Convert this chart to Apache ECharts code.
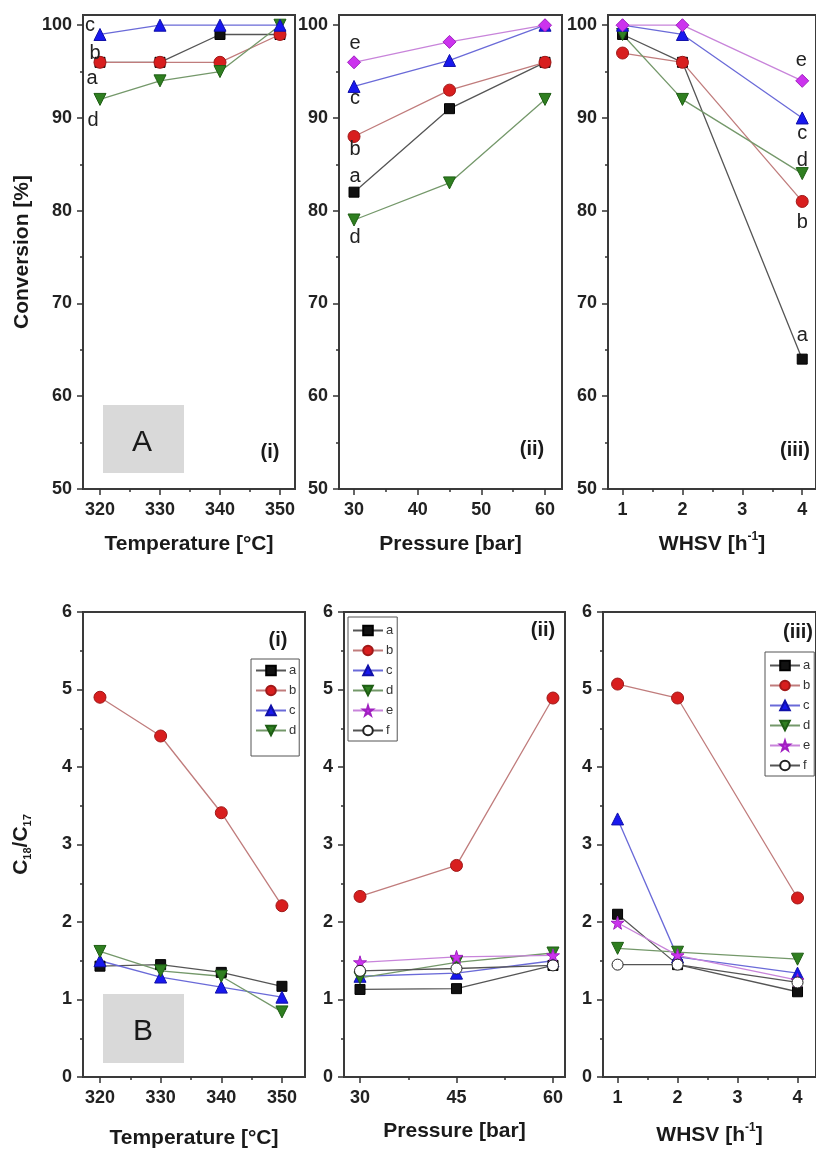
<!DOCTYPE html>
<html>
<head>
<meta charset="utf-8">
<script src="https://cdn.jsdelivr.net/npm/echarts@6/dist/echarts.min.js"></script>
<style>
  html, body { margin: 0; padding: 0; background: #fff; }
  #chart { width: 816px; height: 1151px; }
</style>
</head>
<body>
<div id="chart"></div>
<script>
// ---------- top row (A): conversion [%] ----------
const tempX = [320, 330, 340, 350];
const convTempA = [96, 96, 99, 99];
const convTempB = [96, 96, 96, 99];
const convTempC = [99, 100, 100, 100];
const convTempD = [92, 94, 95, 100];

const presX = [30, 45, 60];
const convPresA = [82, 91, 96];
const convPresB = [88, 93, 96];
const convPresC = [93.4, 96.2, 100];
const convPresD = [79, 83, 92];
const convPresE = [96, 98.2, 100];

const whsvX = [1, 2, 4];
const convWhsvA = [99, 96, 64];
const convWhsvB = [97, 96, 81];
const convWhsvC = [100, 99, 90];
const convWhsvD = [99, 92, 84];
const convWhsvE = [100, 100, 94];

// ---------- bottom row (B): C18/C17 ----------
const ratioTempA = [1.43, 1.45, 1.35, 1.17];
const ratioTempB = [4.90, 4.40, 3.41, 2.21];
const ratioTempC = [1.50, 1.29, 1.16, 1.03];
const ratioTempD = [1.62, 1.37, 1.30, 0.84];

const ratioPresA = [1.13, 1.14, 1.44];
const ratioPresB = [2.33, 2.73, 4.89];
const ratioPresC = [1.30, 1.34, 1.50];
const ratioPresD = [1.28, 1.48, 1.60];
const ratioPresE = [1.48, 1.55, 1.57];
const ratioPresF = [1.37, 1.40, 1.44];

const ratioWhsvA = [2.10, 1.45, 1.10];
const ratioWhsvB = [5.07, 4.89, 2.31];
const ratioWhsvC = [3.33, 1.55, 1.34];
const ratioWhsvD = [1.66, 1.61, 1.52];
const ratioWhsvE = [1.99, 1.57, 1.25];
const ratioWhsvF = [1.45, 1.45, 1.22];

// ---------- ticks ----------
const tempTicks = [320, 330, 340, 350];
const tempMinor = [325, 335, 345];
const presTicksA = [30, 40, 50, 60];
const presMinorA = [35, 45, 55];
const presTicksB = [30, 45, 60];
const presMinorB = [37.5, 52.5];
const whsvTicks = [1, 2, 3, 4];
const whsvMinor = [1.5, 2.5, 3.5];
const convTicks = [50, 60, 70, 80, 90, 100];
const convMinor = [55, 65, 75, 85, 95];
const ratioTicks = [0, 1, 2, 3, 4, 5, 6];
const ratioMinor = [0.5, 1.5, 2.5, 3.5, 4.5, 5.5];

const FONT = '"Liberation Sans", Arial, sans-serif';
const STAR = 'path://M50,0 L61,35 L98,35 L68,57 L79,91 L50,70 L21,91 L32,57 L2,35 L39,35 Z';

const looks = {
  a: { symbol: 'rect', size: 10, color: '#111', border: '#000', line: '#555' },
  b: { symbol: 'circle', size: 12, color: '#d81e1e', border: '#a01818', line: '#c07c7c' },
  c: { symbol: 'triangle', size: 12, color: '#1818ee', border: '#1010a8', line: '#6a6ad8' },
  d: { symbol: 'triangle', rotate: 180, size: 12, color: '#2f7f20', border: '#1e5e14', line: '#74986a' },
  e: { symbol: 'diamond', size: 13, color: '#cc33ee', border: '#a020c0', line: '#c884da' },
  f: { symbol: 'circle', size: 11, color: '#fff', border: '#222', line: '#555' },
};

const grids = [
  { left: 83, top: 15, width: 212, height: 474 },   // A (i)
  { left: 339, top: 15, width: 223, height: 474 },  // A (ii)
  { left: 608, top: 15, width: 214, height: 474 },  // A (iii)
  { left: 83, top: 612, width: 222, height: 465 },  // B (i)
  { left: 344, top: 612, width: 221, height: 465 }, // B (ii)
  { left: 603, top: 612, width: 219, height: 465 }, // B (iii)
].map((g) => ({ ...g, show: true, borderColor: '#3a3a3a', borderWidth: 2, backgroundColor: 'transparent' }));

const titleStyle = { fontFamily: FONT, fontSize: 21, fontWeight: 'bold', color: '#1a1a1a' };
const whsvName = {
  text: '{t|WHSV [h}{s|-1}{t|]}',
  rich: {
    t: { ...titleStyle, lineHeight: 26 },
    s: { fontFamily: FONT, fontSize: 12, fontWeight: 'bold', color: '#1a1a1a', verticalAlign: 'top', lineHeight: 12 },
  },
};

// x axis setup for every panel
const xSetup = [
  { min: 317.17, max: 352.5, ticks: tempTicks, minor: tempMinor, name: 'Temperature [°C]', gap: 45 },
  { min: 27.64, max: 62.67, ticks: presTicksA, minor: presMinorA, name: 'Pressure [bar]', gap: 45 },
  { min: 0.757, max: 4.23, ticks: whsvTicks, minor: whsvMinor, name: whsvName, gap: 42 },
  { min: 317.2, max: 353.8, ticks: tempTicks, minor: tempMinor, name: 'Temperature [°C]', gap: 51 },
  { min: 27.51, max: 61.87, ticks: presTicksB, minor: presMinorB, name: 'Pressure [bar]', gap: 44 },
  { min: 0.757, max: 4.308, ticks: whsvTicks, minor: whsvMinor, name: whsvName, gap: 45 },
];
const ySetup = [
  { min: 50, max: 101.1, ticks: convTicks, minor: convMinor, name: 'Conversion [%]' },
  { min: 50, max: 101.1, ticks: convTicks, minor: convMinor },
  { min: 50, max: 101.1, ticks: convTicks, minor: convMinor },
  { min: 0, max: 6, ticks: ratioTicks, minor: ratioMinor, name: '{t|C}{s|18}{t|/C}{s|17}' },
  { min: 0, max: 6, ticks: ratioTicks, minor: ratioMinor },
  { min: 0, max: 6, ticks: ratioTicks, minor: ratioMinor },
];

const tickLine = { color: '#333', width: 1.5 };
const tickLabel = { fontFamily: FONT, fontSize: 18, fontWeight: 'bold', color: '#222' };

let xAxes = [], yAxes = [];
xSetup.forEach((s, i) => {
  let nm = typeof s.name === 'string' ? { name: s.name, style: titleStyle } : { name: s.name.text, style: { ...titleStyle, rich: s.name.rich } };
  xAxes.push({
    type: 'value', gridIndex: i, position: 'bottom', min: s.min, max: s.max,
    axisLine: { show: false, onZero: false }, splitLine: { show: false },
    axisTick: { show: true, customValues: s.ticks, length: 6, lineStyle: tickLine },
    axisLabel: { customValues: s.ticks, margin: 12, ...tickLabel },
    name: nm.name, nameLocation: 'middle', nameGap: s.gap, nameTextStyle: nm.style,
  });
  // minor ticks sit on a second, label-less axis on the same edge
  xAxes.push({
    type: 'value', gridIndex: i, position: 'bottom', offset: 0, min: s.min, max: s.max,
    axisLine: { show: false, onZero: false }, splitLine: { show: false },
    axisTick: { show: true, customValues: s.minor, length: 3, lineStyle: tickLine },
    axisLabel: { show: false },
  });
});
ySetup.forEach((s, i) => {
  yAxes.push({
    type: 'value', gridIndex: i, position: 'left', min: s.min, max: s.max,
    axisLine: { show: false, onZero: false }, splitLine: { show: false },
    axisTick: { show: true, customValues: s.ticks, length: 6, lineStyle: tickLine },
    axisLabel: { customValues: s.ticks, margin: 11, ...tickLabel },
    name: s.name || '', nameLocation: 'middle', nameGap: 50, nameRotate: 90,
    nameTextStyle: {
      ...titleStyle, fontSize: 21,
      rich: {
        t: { ...titleStyle, fontSize: 21, lineHeight: 24 },
        s: { fontFamily: FONT, fontSize: 11, fontWeight: 'bold', color: '#1a1a1a', verticalAlign: 'bottom', lineHeight: 10 },
      },
    },
  });
  yAxes.push({
    type: 'value', gridIndex: i, position: 'left', offset: 0, min: s.min, max: s.max,
    axisLine: { show: false, onZero: false }, splitLine: { show: false },
    axisTick: { show: true, customValues: s.minor, length: 3, lineStyle: tickLine },
    axisLabel: { show: false },
  });
});

function line(name, grid, xs, ys, note, symbolOverride) {
  const lk = looks[name];
  const data = xs.map((x, k) => {
    const item = { value: [x, ys[k]] };
    if (note && note.at === k) {
      item.label = {
        show: true, formatter: name, position: 'inside', offset: note.off,
        fontFamily: FONT, fontSize: 20, color: '#222',
      };
    }
    return item;
  });
  return {
    type: 'line', name, xAxisIndex: grid * 2, yAxisIndex: grid * 2, data,
    symbol: symbolOverride || lk.symbol, symbolSize: lk.size, symbolRotate: lk.rotate || 0,
    itemStyle: { color: lk.color, borderColor: lk.border, borderWidth: 1 },
    lineStyle: { color: lk.line, width: 1.3 },
    label: { show: false },
    emphasis: { disabled: true },
    clip: false, animation: false,
  };
}

// bottom series first, so the legends pick up the star for "e"
const series = [
  line('a', 3, tempX, ratioTempA),
  line('b', 3, tempX, ratioTempB),
  line('c', 3, tempX, ratioTempC),
  line('d', 3, tempX, ratioTempD),

  line('a', 4, presX, ratioPresA),
  line('b', 4, presX, ratioPresB),
  line('c', 4, presX, ratioPresC),
  line('d', 4, presX, ratioPresD),
  line('e', 4, presX, ratioPresE, null, STAR),
  line('f', 4, presX, ratioPresF),

  line('a', 5, whsvX, ratioWhsvA),
  line('b', 5, whsvX, ratioWhsvB),
  line('c', 5, whsvX, ratioWhsvC),
  line('d', 5, whsvX, ratioWhsvD),
  line('e', 5, whsvX, ratioWhsvE, null, STAR),
  line('f', 5, whsvX, ratioWhsvF),

  line('a', 0, tempX, convTempA, { at: 0, off: [-8, 16] }),
  line('b', 0, tempX, convTempB, { at: 0, off: [-5, -9] }),
  line('d', 0, tempX, convTempD, { at: 0, off: [-7, 21] }),
  line('c', 0, tempX, convTempC, { at: 0, off: [-10, -9] }),

  line('a', 1, presX, convPresA, { at: 0, off: [1, -16] }),
  line('b', 1, presX, convPresB, { at: 0, off: [1, 13] }),
  line('d', 1, presX, convPresD, { at: 0, off: [1, 17] }),
  line('c', 1, presX, convPresC, { at: 0, off: [1, 12] }),
  line('e', 1, presX, convPresE, { at: 0, off: [1, -19] }),

  line('a', 2, whsvX, convWhsvA, { at: 2, off: [0, -24] }),
  line('b', 2, whsvX, convWhsvB, { at: 2, off: [0, 21] }),
  line('d', 2, whsvX, convWhsvD, { at: 2, off: [0, -13] }),
  line('c', 2, whsvX, convWhsvC, { at: 2, off: [0, 16] }),
  line('e', 2, whsvX, convWhsvE, { at: 2, off: [-1, -20] }),
];

const legendBase = {
  orient: 'vertical', selectedMode: false,
  itemWidth: 30, itemHeight: 12, itemGap: 7,
  borderColor: '#555', borderWidth: 1, borderRadius: 0,
  textStyle: { fontFamily: FONT, fontSize: 13, color: '#333', padding: [0, 0, 0, -2] },
};
const legends = [
  { ...legendBase, data: ['a', 'b', 'c', 'd'], left: 251, top: 659, padding: [5, 3, 19, 4] },
  { ...legendBase, data: ['a', 'b', 'c', 'd', 'e', 'f'], left: 348, top: 617, padding: [7, 4, 4, 4] },
  { ...legendBase, data: ['a', 'b', 'c', 'd', 'e', 'f'], left: 765, top: 652, padding: [7, 4, 4, 4] },
];

function txt(t, x, y, size, weight) {
  return {
    type: 'text', x, y, z: 100,
    style: { text: t, fontFamily: FONT, fontSize: size, fontWeight: weight || 'normal', fill: '#1a1a1a', align: 'center', verticalAlign: 'middle' },
  };
}

const graphic = [
  { type: 'rect', z: 90, shape: { x: 103, y: 405, width: 81, height: 68 }, style: { fill: '#d9d9d9' } },
  txt('A', 142, 443, 30),
  { type: 'rect', z: 90, shape: { x: 103, y: 994, width: 81, height: 69 }, style: { fill: '#d9d9d9' } },
  txt('B', 143, 1032, 30),
  txt('(i)', 270, 452, 20, 'bold'),
  txt('(ii)', 532, 449, 20, 'bold'),
  txt('(iii)', 795, 450, 20, 'bold'),
  txt('(i)', 278, 640, 20, 'bold'),
  txt('(ii)', 543, 630, 20, 'bold'),
  txt('(iii)', 798, 632, 20, 'bold'),
];

const chart = echarts.init(document.getElementById('chart'));
chart.setOption({
  backgroundColor: '#fff',
  animation: false,
  grid: grids,
  xAxis: xAxes,
  yAxis: yAxes,
  legend: legends,
  series,
  graphic,
});
</script>
</body>
</html>
